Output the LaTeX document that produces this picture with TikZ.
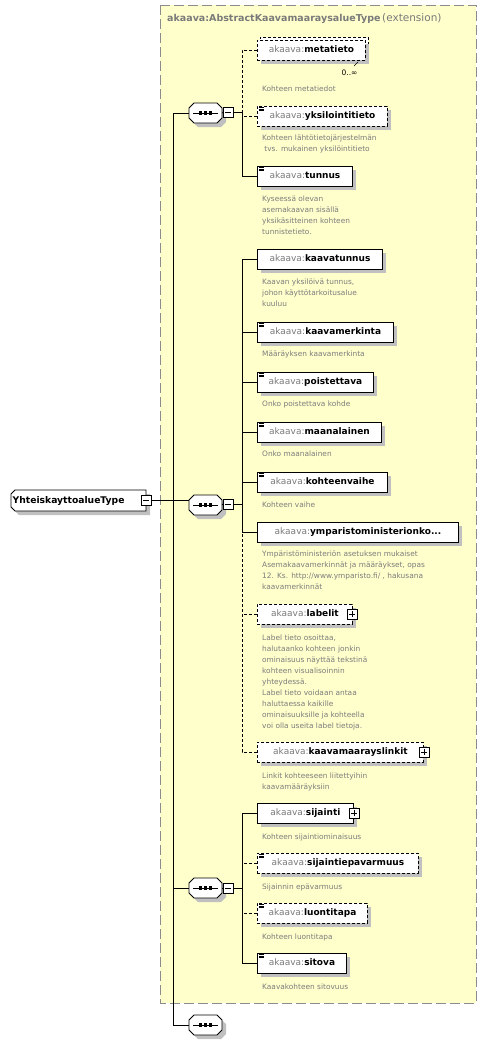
\documentclass[tikz,border=0pt]{standalone}
\usepackage{fontspec}
\setmainfont{DejaVu Sans}
\usetikzlibrary{shadows,calc}
\definecolor{bgyellow}{HTML}{FFFFCC}
\definecolor{akgray}{HTML}{7A7A7A}
\definecolor{descgray}{HTML}{7C7C7C}
\definecolor{shadowgray}{HTML}{C0C0C0}
\definecolor{bordergray}{HTML}{8C8C8C}
\newcommand\akname[1]{{\color{akgray}akaava:}\textbf{#1}}
\newcommand\xsdicon[1]{\draw[line width=0.6pt] ([shift={(2pt,-1.8pt)}]#1.north west) -- ++(5pt,0pt) ([shift={(2pt,-3.5pt)}]#1.north west) -- ++(5pt,0pt) ([shift={(2pt,-5.2pt)}]#1.north west) -- ++(5pt,0pt);}
% sequence compositor drawn round a centre
\newcommand\seqoct[2]{%
 \begin{scope}[shift={(#1,#2)}]
  \fill[shadowgray] (-7.5,-6) -- (15.5,-6) -- (20.5,-1) -- (20.5,9) -- (15.5,14) -- (-7.5,14) -- (-12.5,9) -- (-12.5,-1) -- cycle;
  \draw[line width=0.9pt, fill=white] (-11.5,-10) -- (11.5,-10) -- (16.5,-5) -- (16.5,5) -- (11.5,10) -- (-11.5,10) -- (-16.5,5) -- (-16.5,-5) -- cycle;
  \draw[line width=0.9pt] (-12.5,0) -- (12.5,0);
  \foreach \dx in {-5,0,5} \fill (\dx-1.6,-1.6) rectangle ++(3.2,3.2);
 \end{scope}}
\tikzset{
  conn/.style={line width=0.9pt},
  opt/.style={line width=0.9pt, dash pattern=on 3pt off 2pt},
  shadowed/.style={drop shadow={shadow xshift=4pt, shadow yshift=-4pt, fill=shadowgray, opacity=1}},
  elembox/.style={draw, line width=0.9pt, fill=white, minimum height=20pt, inner xsep=3pt, inner ysep=0pt,
    text height=7pt, text depth=2pt, font=\fontsize{9}{11}\selectfont, anchor=west, shadowed},
  optbox/.style={elembox, dash pattern=on 3pt off 2pt},
  backbox/.style={draw, line width=0.9pt, fill=white, minimum height=20pt, inner sep=0pt, anchor=west, dash pattern=on 3pt off 2pt},
  desc/.style={font=\fontsize{7.4}{11}\selectfont, text=descgray, align=left, anchor=north west, inner sep=0pt},
  seqnode/.style={minimum width=33pt, minimum height=20pt, inner sep=0pt},
  minusbox/.style={draw, line width=0.8pt, fill=white, minimum size=10pt, inner sep=0pt,
    path picture={\draw[line width=0.8pt] ([xshift=2pt]path picture bounding box.west) -- ([xshift=-2pt]path picture bounding box.east);}},
  plusbox/.style={draw, line width=0.8pt, fill=white, minimum size=10pt, inner sep=0pt,
    path picture={\draw[line width=0.8pt] ([xshift=2pt]path picture bounding box.west) -- ([xshift=-2pt]path picture bounding box.east)
      ([yshift=2pt]path picture bounding box.south) -- ([yshift=-2pt]path picture bounding box.north);}},
}
\begin{document}
\begin{tikzpicture}[x=1pt,y=-1pt]
\useasboundingbox (0,0) rectangle (488,1045);
% extension background
\fill[bgyellow] (160,5) rectangle (476,1003);
\draw[bordergray, line width=1pt, dash pattern=on 10pt off 4pt] (160,5) rectangle (476,1003);
\node[anchor=west, inner sep=0pt, text=akgray] (title) at (167,19) {\fontsize{9.5}{11}\selectfont\textbf{akaava:AbstractKaavamaaraysalueType}\,\fontsize{10.5}{11}\selectfont(extension)};

% main type
\fill[shadowgray] (19,494) -- (150,494) -- (150,515) -- (19,515) -- (15,511) -- (15,498) -- cycle;
\draw[line width=0.9pt, fill=white] (15,490) -- (146,490) -- (146,511) -- (15,511) -- (11,507) -- (11,494) -- cycle;
\node[anchor=west, inner sep=0pt, font=\fontsize{9.2}{11}\selectfont\bfseries] (main) at (12.5,500.5) {YhteiskayttoalueType};
\node[minusbox] (mm) at (146,500) {};

% sequences
\seqoct{205.5}{113}
\node[seqnode] (seq1) at (205.5,113) {};
\node[minusbox] (m1) at (228,112.5) {};
\seqoct{205.5}{505}
\node[seqnode] (seq2) at (205.5,505) {};
\node[minusbox] (m2) at (228,504) {};
\seqoct{205.5}{888}
\node[seqnode] (seq3) at (205.5,888) {};
\node[minusbox] (m3) at (228,888) {};
\seqoct{205.5}{1025}
\node[seqnode] (seq4) at (205.5,1025) {};

\coordinate (t1) at (173,113);
\coordinate (t4) at (173,1025);
\coordinate (b1) at (242,112.5);
\coordinate (b2) at (242,504);
\coordinate (b3) at (242,888);

% trunk
\draw[conn] (mm.east) -- (mm.east -| seq2.west);
\draw[conn] (seq1.west) -- (t1) -- (t4) -- (seq4.west);
\draw[conn] (seq3.west) -- (seq3.west -| t1);
\draw[conn] (seq1.east) -- (m1.west);
\draw[conn] (seq2.east) -- (m2.west);
\draw[conn] (seq3.east) -- (m3.west);

% ---- sequence 1 children
\fill[shadowgray] (261,44) rectangle (369,64);
\node[backbox, minimum width=108pt] (metaback) at (260,47) {};
\node[optbox, minimum width=108pt, drop shadow={opacity=0}] (meta) at (257,50) {\akname{metatieto}};
\draw[line width=0.6pt] (354,66) -- (358,62);
\node[inner sep=0pt, font=\fontsize{7.5}{9}\selectfont] (metamult) at (349.5,72.5) {0..∞};
\node[desc] (dmeta) at (262,85.2) {Kohteen metatiedot};

\node[optbox, minimum width=130pt] (yks) at (257,116) {\akname{yksilointitieto}};
\xsdicon{yks}
\node[desc] (dyks) at (262,134.2) {Kohteen lähtötietojärjestelmän\\\hspace*{2.2pt}tvs. mukainen yksilöintitieto};

\node[elembox, minimum width=95pt] (tunnus) at (257,176) {\akname{tunnus}};
\xsdicon{tunnus}
\node[desc] (dtunnus) at (262,195.2) {Kyseessä olevan\\asemakaavan sisällä\\yksikäsitteinen kohteen\\tunnistetieto.};

\draw[conn] (m1.east) -- (b1);
\draw[opt] (meta.west) -| (b1);
\draw[opt] (yks.west) -- (yks.west -| b1);
\draw[conn] (tunnus.west) -| (b1);

% ---- sequence 2 children
\node[elembox, minimum width=125pt] (kaavatunnus) at (257,259) {\akname{kaavatunnus}};
\node[desc] (dkaavatunnus) at (262,278.2) {Kaavan yksilöivä tunnus,\\johon käyttötarkoitusalue\\kuuluu};

\node[elembox, minimum width=136pt] (kaavamerkinta) at (257,332) {\akname{kaavamerkinta}};
\xsdicon{kaavamerkinta}
\node[desc] (dkaavamerkinta) at (262,350.2) {Määräyksen kaavamerkinta};

\node[elembox, minimum width=116pt] (poistettava) at (257,382) {\akname{poistettava}};
\xsdicon{poistettava}
\node[desc] (dpoistettava) at (262,400.2) {Onko poistettava kohde};

\node[elembox, minimum width=124pt] (maanalainen) at (257,432) {\akname{maanalainen}};
\xsdicon{maanalainen}
\node[desc] (dmaanalainen) at (262,450.2) {Onko maanalainen};

\node[elembox, minimum width=130pt] (kohteenvaihe) at (257,482) {\akname{kohteenvaihe}};
\xsdicon{kohteenvaihe}
\node[desc] (dkohteenvaihe) at (262,501.2) {Kohteen vaihe};

\node[elembox, minimum width=201pt] (ymp) at (257,532) {\akname{ymparistoministerionko...}};
\node[desc] (dymp) at (262,550.2) {Ympäristöministeriön asetuksen mukaiset\\Asemakaavamerkinnät ja määräykset, opas\\12. Ks. http://www.ymparisto.fi/ , hakusana\\kaavamerkinnät};

\node[optbox, minimum width=95pt] (labelit) at (257,614) {\akname{labelit}\hspace{9pt}};
\node[plusbox] (plabelit) at ([xshift=-1pt]labelit.east) {};
\node[desc] (dlabelit) at (262,634.2) {Label tieto osoittaa,\\halutaanko kohteen jonkin\\ominaisuus näyttää tekstinä\\kohteen visualisoinnin\\yhteydessä.\\Label tieto voidaan antaa\\haluttaessa kaikille\\ominaisuuksille ja kohteella\\voi olla useita label tietoja.};

\node[optbox, minimum width=166pt] (linkit) at (257,752) {\akname{kaavamaarayslinkit}\hspace{9pt}};
\node[plusbox] (plinkit) at (linkit.east) {};
\node[desc] (dlinkit) at (262,772.2) {Linkit kohteeseen liitettyihin\\kaavamääräyksiin};

\draw[conn] (m2.east) -- (b2);
\draw[conn] (kaavatunnus.west) -| (b2);
\draw[conn] (ymp.west) -| (b2);
\draw[conn] (kaavamerkinta.west) -- (kaavamerkinta.west -| b2);
\draw[conn] (poistettava.west) -- (poistettava.west -| b2);
\draw[conn] (maanalainen.west) -- (maanalainen.west -| b2);
\draw[conn] (kohteenvaihe.west) -- (kohteenvaihe.west -| b2);
\draw[opt] (linkit.west) -| (ymp.west -| b2);
\draw[opt] (labelit.west) -- (labelit.west -| b2);

% ---- sequence 3 children
\node[elembox, minimum width=96pt] (sijainti) at (257,813) {\akname{sijainti}\hspace{9pt}};
\node[plusbox] (psijainti) at (sijainti.east) {};
\node[desc] (dsijainti) at (262,833.2) {Kohteen sijaintiominaisuus};

\node[optbox, minimum width=161pt] (sijaintiep) at (257,863) {\akname{sijaintiepavarmuus}};
\xsdicon{sijaintiep}
\node[desc] (dsijaintiep) at (262,883.2) {Sijainnin epävarmuus};

\node[optbox, minimum width=110pt] (luontitapa) at (257,913) {\akname{luontitapa}};
\xsdicon{luontitapa}
\node[desc] (dluontitapa) at (262,933.2) {Kohteen luontitapa};

\node[elembox, minimum width=89pt] (sitova) at (257,963) {\akname{sitova}};
\xsdicon{sitova}
\node[desc] (dsitova) at (262,983.2) {Kaavakohteen sitovuus};

\draw[conn] (m3.east) -- (b3);
\draw[conn] (sijainti.west) -| (b3);
\draw[conn] (sitova.west) -| (b3);
\draw[opt] (sijaintiep.west) -- (sijaintiep.west -| b3);
\draw[opt] (luontitapa.west) -- (luontitapa.west -| b3);
\end{tikzpicture}
\end{document}
